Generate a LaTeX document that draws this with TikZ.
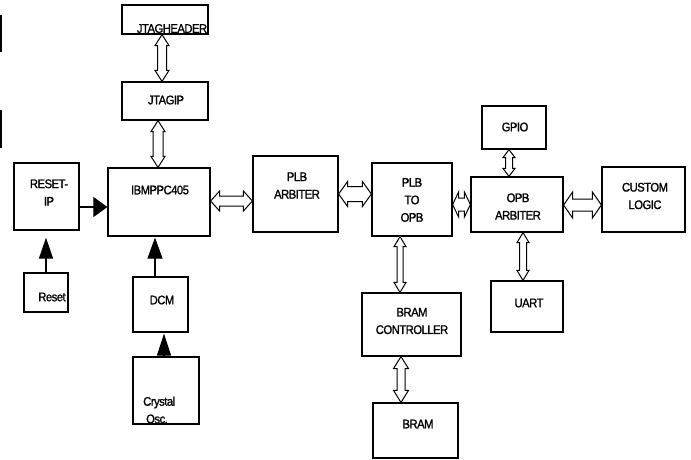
\documentclass[tikz,border=0pt]{standalone}
\usepackage{fontspec}
\setmainfont{Liberation Sans}[FakeStretch=0.9, LetterSpace=-4, FakeBold=1.2]
\usetikzlibrary{calc,arrows.meta}
\tikzset{
  box/.style={draw, line width=1.2pt, inner sep=0pt},
  lbl/.style={inner sep=0pt, align=center, font=\fontsize{12.5}{17.5}\selectfont},
  dbl/.style={draw, line width=1pt, fill=white, line join=miter},
  farr/.style={line width=1.1pt},
}
\newcommand{\dblarr}[5]{%
  \draw[dbl] (#1) -- ($(#1)!#5!(#2)!#3!90:(#2)$) -- ($(#1)!#5!(#2)!#4!90:(#2)$)
   -- ($(#2)!#5!(#1)!#4!-90:(#1)$) -- ($(#2)!#5!(#1)!#3!-90:(#1)$) -- (#2)
   -- ($(#2)!#5!(#1)!#3!90:(#1)$) -- ($(#2)!#5!(#1)!#4!90:(#1)$)
   -- ($(#1)!#5!(#2)!#4!-90:(#2)$) -- ($(#1)!#5!(#2)!#3!-90:(#2)$) -- cycle;}
\begin{document}
\begin{tikzpicture}[x=1pt,y=-1pt]
\fill[white] (0,0) rectangle (691,459);
\useasboundingbox (0,0) rectangle (691,459);
% stray edge marks
\draw[line width=2pt] (1,15) -- (1,52);
\draw[line width=2pt] (1,110) -- (1,148);
% boxes
\node[box, minimum width=86pt, minimum height=29pt] (jtagh) at (165,19.5) {};
\node[box, minimum width=86pt, minimum height=38pt] (jtagip) at (165,101) {};
\node[box, minimum width=65pt, minimum height=67pt] (resetip) at (46.5,196.5) {};
\node[box, minimum width=102pt, minimum height=68pt] (ppc) at (159,202) {};
\node[box, minimum width=44pt, minimum height=39pt] (reset) at (46,292.5) {};
\node[box, minimum width=55pt, minimum height=55pt] (dcm) at (160.5,304.5) {};
\node[box, minimum width=66pt, minimum height=67pt] (crystal) at (166,390.5) {};
\node[box, minimum width=85pt, minimum height=76pt] (plbarb) at (295.5,194) {};
\node[box, minimum width=80pt, minimum height=73pt] (plbopb) at (412,199.5) {};
\node[box, minimum width=99pt, minimum height=63pt] (bramc) at (411.5,324.5) {};
\node[box, minimum width=85pt, minimum height=55pt] (bram) at (415.5,430.5) {};
\node[box, minimum width=64pt, minimum height=43pt] (gpio) at (514,127.5) {};
\node[box, minimum width=92pt, minimum height=55pt] (opbarb) at (517,204.5) {};
\node[box, minimum width=83pt, minimum height=65pt] (custom) at (643.5,199.5) {};
\node[box, minimum width=72pt, minimum height=51pt] (uart) at (527,306.5) {};
% texts
\node[lbl] (tjtagh) at (172,28.5) {JTAGHEADER};
\node[lbl] (tjtagip) at (166,100) {JTAGIP};
\node[lbl] (tresetip) at (49,192.5) {RESET-\\IP};
\node[lbl] (tppc) at (160,190) {IBMPPC405};
\node[lbl] (treset) at (52,297) {Reset};
\node[lbl] (tdcm) at (162,300) {DCM};
\node[lbl, align=left, anchor=west] (tcrystal) at (143,410) {Crystal\\\hspace*{3pt}Osc.};
\node[lbl] (tplbarb) at (297,185.5) {PLB\\ARBITER};
\node[lbl] (tplbopb) at (412,200) {PLB\\TO\\OPB};
\node[lbl] (tbramc) at (412,321) {BRAM\\CONTROLLER};
\node[lbl] (tbram) at (418,424) {BRAM};
\node[lbl] (tgpio) at (515,127) {GPIO};
\node[lbl] (topbarb) at (518,206.5) {OPB\\ARBITER};
\node[lbl] (tcustom) at (645,196) {CUSTOM\\LOGIC};
\node[lbl] (tuart) at (529,303) {UART};
% hollow double arrows
\coordinate (a1s) at (162,0 |- jtagh.south);   \coordinate (a1e) at (162,0 |- jtagip.north);
\coordinate (a2s) at (158,0 |- jtagip.south);  \coordinate (a2e) at (158,0 |- ppc.north);
\coordinate (a3s) at (ppc.east |- 0,201);      \coordinate (a3e) at (plbarb.west |- 0,201);
\coordinate (a4s) at (plbarb.east |- 0,194);   \coordinate (a4e) at (plbopb.west |- 0,194);
\coordinate (a5s) at (plbopb.east |- 0,204.5); \coordinate (a5e) at (opbarb.west |- 0,204.5);
\coordinate (a6s) at (opbarb.east |- 0,205);   \coordinate (a6e) at (custom.west |- 0,205);
\coordinate (a7s) at (509,0 |- gpio.south);    \coordinate (a7e) at (509,0 |- opbarb.north);
\coordinate (a8s) at (523,0 |- opbarb.south);  \coordinate (a8e) at (523,0 |- uart.north);
\coordinate (a9s) at (400,0 |- plbopb.south);  \coordinate (a9e) at (400,0 |- bramc.north);
\coordinate (a10s) at (401,0 |- bramc.south);  \coordinate (a10e) at (401,0 |- bram.north);
\dblarr{a1s}{a1e}{7pt}{4.5pt}{11pt}
\dblarr{a2s}{a2e}{7pt}{5pt}{11pt}
\dblarr{a3s}{a3e}{10pt}{5pt}{9pt}
\dblarr{a4s}{a4e}{12.5pt}{7.5pt}{9pt}
\dblarr{a5s}{a5e}{12.5pt}{6.5pt}{6pt}
\dblarr{a6s}{a6e}{13pt}{6pt}{9pt}
\dblarr{a7s}{a7e}{6pt}{3.5pt}{8pt}
\dblarr{a8s}{a8e}{6pt}{3.5pt}{10pt}
\dblarr{a9s}{a9e}{6pt}{3pt}{10pt}
\dblarr{a10s}{a10e}{7.5pt}{4pt}{12pt}
% filled arrows
\draw[farr, -{Triangle[length=14pt,width=20pt]}] (resetip.east |- 0,207) -- (ppc.west |- 0,207);
\draw[farr, -{Triangle[length=21pt,width=14pt]}, shorten >=7pt] (reset.north) -- (reset.north |- resetip.south);
\draw[farr, -{Triangle[length=21pt,width=15pt]}, shorten >=1pt] (155,0 |- dcm.north) -- (155,0 |- ppc.south);
\draw[farr, -{Triangle[length=22pt,width=14pt]}, shorten >=1pt] (164,0 |- crystal.north) -- (164,0 |- dcm.south);
\end{tikzpicture}
\end{document}
